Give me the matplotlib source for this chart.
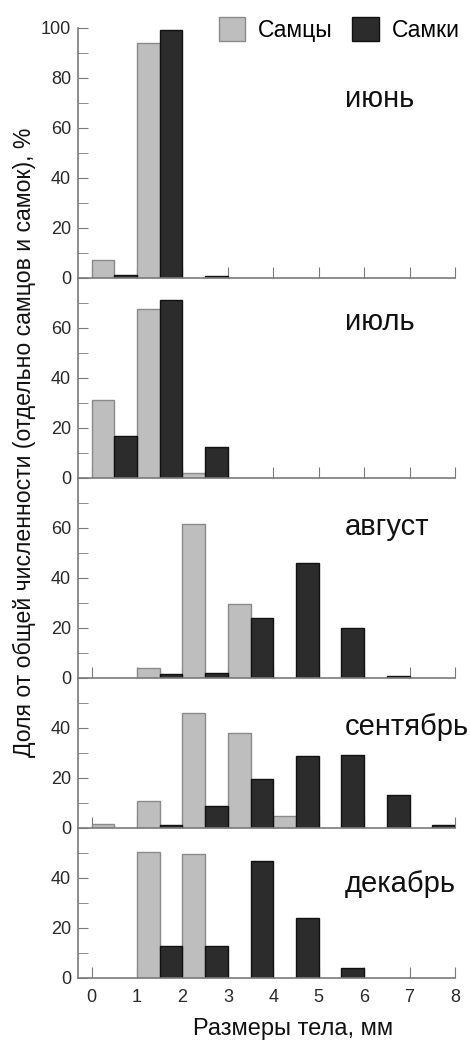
import matplotlib
matplotlib.use("Agg")
from matplotlib import pyplot as plt
import numpy as np

plt.rcParams['font.family'] = ['Liberation Sans', 'DejaVu Sans']

# Data: bin start (mm); males drawn in left half of bin, females in right half
bins = np.arange(0, 8)
months = ["июнь", "июль", "август", "сентябрь", "декабрь"]

june_m = [7, 93.7, 0, 0, 0, 0, 0, 0]
june_f = [1.1, 98.9, 0.5, 0, 0, 0, 0, 0]
july_m = [31, 67.5, 1.7, 0, 0, 0, 0, 0]
july_f = [16.7, 71.1, 12.2, 0, 0, 0, 0, 0]
aug_m = [0, 3.8, 61.5, 29.6, 0, 0, 0, 0]
aug_f = [0, 1.5, 1.8, 23.7, 46, 20, 0.8, 0]
sep_m = [1.5, 10.5, 46, 38, 4.6, 0, 0, 0]
sep_f = [0, 1, 8.7, 19.5, 28.5, 29, 13, 1.2]
dec_m = [0, 50.1, 49.3, 0, 0, 0, 0, 0]
dec_f = [0, 12.5, 12.5, 46.8, 23.7, 3.7, 0, 0]

males = [june_m, july_m, aug_m, sep_m, dec_m]
females = [june_f, july_f, aug_f, sep_f, dec_f]
ymax = [100, 80, 80, 60, 60]
yticks = [[0, 20, 40, 60, 80, 100], [0, 20, 40, 60], [0, 20, 40, 60], [0, 20, 40], [0, 20, 40]]
label_y = [0.684, 0.7385, 0.7135, 0.618, 0.573]

x_ticks = list(range(0, 9))
legend_labels = ["Самцы", "Самки"]
c_m, c_f = "#bebebe", "#2c2c2c"

fig = plt.figure(figsize=(4.7, 10.4), dpi=100)
gs = fig.add_gridspec(5, 1, height_ratios=ymax, hspace=0,
                      left=0.166, right=0.968, top=0.9734, bottom=0.0600)

axes = []
for i in range(5):
    ax = fig.add_subplot(gs[i])
    axes.append(ax)
    m = np.array(males[i], dtype=float)
    f = np.array(females[i], dtype=float)
    mk, fk = m > 0, f > 0
    bm = ax.bar(bins[mk] + 0.25, m[mk], width=0.5, color=c_m, edgecolor="#8a8a8a", linewidth=1.0)
    bf = ax.bar(bins[fk] + 0.75, f[fk], width=0.5, color=c_f, edgecolor="#111111", linewidth=1.0)
    if i == 0:
        h_m, h_f = bm, bf
    ax.set_axisbelow(True)
    ax.set_xlim(-0.3, 8)
    ax.set_ylim(0, ymax[i])
    ax.set_yticks(yticks[i])
    ax.set_yticks(np.arange(10, ymax[i], 20), minor=True)
    ax.set_xticks(x_ticks)
    for s in ["top", "right"]:
        ax.spines[s].set_visible(False)
    for s in ["left", "bottom"]:
        ax.spines[s].set_color("#7a7a7a")
        ax.spines[s].set_linewidth(1.2)
    ax.tick_params(axis="y", which="both", direction="in", length=7, color="#7a7a7a",
                   labelsize=13, labelcolor="#2a2a2a", pad=5)
    ax.tick_params(axis="x", direction="in", length=8, color="#7a7a7a",
                   labelsize=13, labelcolor="#2a2a2a", pad=8)
    if i < 4:
        ax.tick_params(axis="x", labelbottom=False)
    ax.text(0.708, label_y[i], months[i], transform=ax.transAxes,
            ha="left", va="baseline", fontsize=21, color="#111111")
    ax.set_zorder(5 - i)
    ax.patch.set_visible(False)

fig.legend([h_m, h_f], legend_labels, loc="center right", bbox_to_anchor=(0.978, 0.9716),
           ncol=2, frameon=False, fontsize=16.5, handlelength=1.17, handleheight=1.26,
           handletextpad=0.55, columnspacing=0.85, borderpad=0, borderaxespad=0)

fig.text(0.053, 0.575, "Доля от общей численности (отдельно самцов и самок), %",
         rotation=90, ha="center", va="center", fontsize=16.6, color="#111111")
fig.text(0.623, 0.0106, "Размеры тела, мм", ha="center", va="center",
         fontsize=17, color="#111111")

fig.savefig("out.png", dpi=100)
